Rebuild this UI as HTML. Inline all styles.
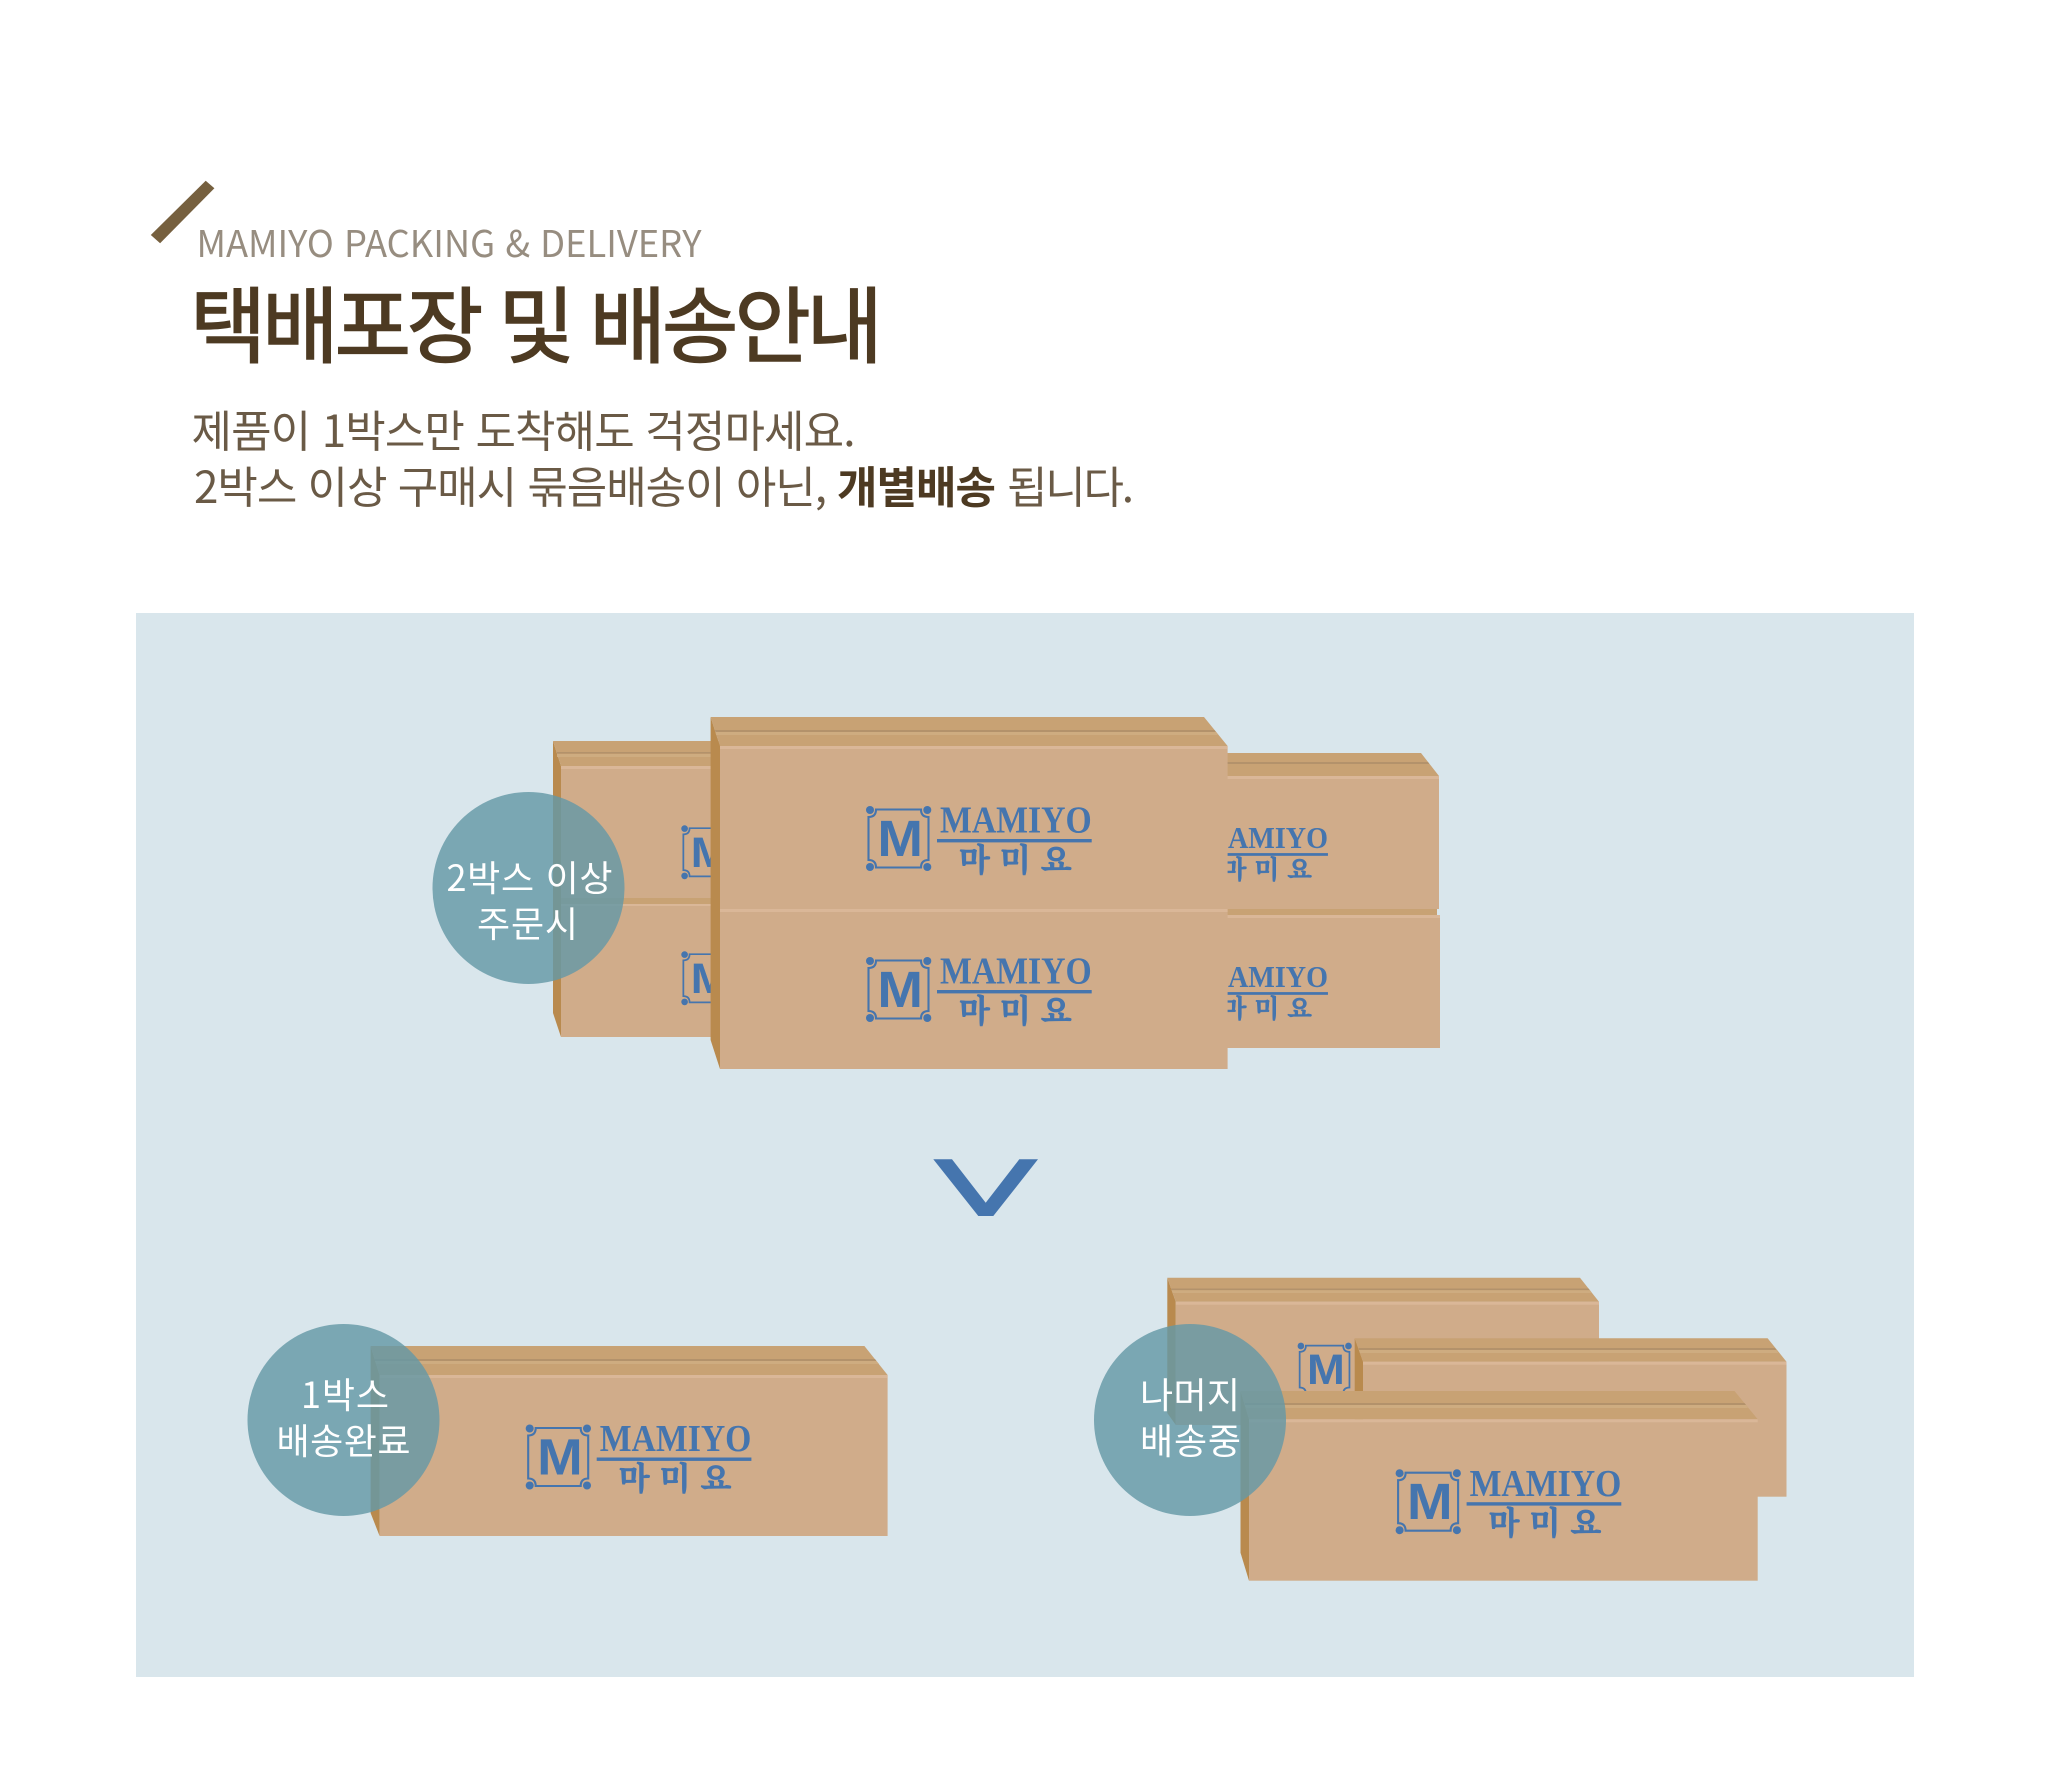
<!DOCTYPE html>
<html lang="ko"><head><meta charset="utf-8"><title>택배포장 및 배송안내</title>
<style>
html,body{margin:0;padding:0;background:#fff}
svg{display:block}
.cjk{font-family:"Noto Sans CJK KR","NanumGothic",sans-serif}
.c{fill:#fff;font-family:"Noto Sans CJK KR","NanumGothic",sans-serif;font-size:36px}
.lm{fill:#4575ae;font-family:"Liberation Sans",sans-serif;font-weight:700;font-size:51px}
.ls{fill:#4575ae;font-family:"Liberation Serif",serif;font-weight:700;font-size:37.7px}
.lk{fill:#4575ae;stroke:#4575ae;stroke-width:.7px;font-family:"Noto Serif CJK SC",serif;font-weight:700;font-size:32px}
.fr{fill:none;stroke:#4575ae;stroke-width:2.1}
.b{fill:#4575ae}
.f{fill:#d0ac8a}.t{fill:#c8a274}.s{fill:#b98a4e}.e{fill:#b3926b}.h{fill:#dab798}.g{fill:#ceac80}
</style></head><body>
<svg width="2050" height="1792" viewBox="0 0 2050 1792" xmlns="http://www.w3.org/2000/svg">
<rect width="2050" height="1792" fill="#fff"/>
<polygon points="205.7,180.7 214.4,188.3 160.1,243.3 150.8,235" fill="#76603f"/>
<text x="196.5" y="257" class="cjk" font-size="37" fill="#978d80" textLength="505" lengthAdjust="spacingAndGlyphs">MAMIYO PACKING &amp; DELIVERY</text>
<text x="190" y="356" class="cjk" font-size="83" fill="#4d3a22" stroke="#4d3a22" stroke-width="1.5" textLength="693" lengthAdjust="spacing">택배포장 및 배송안내</text>
<text x="191.5" y="447" class="cjk" font-size="44" fill="#6a5a46" textLength="664" lengthAdjust="spacing">제품이 1박스만 도착해도 걱정마세요.</text>
<text x="194" y="503" class="cjk" font-size="44" fill="#6a5a46" textLength="633" lengthAdjust="spacing">2박스 이상 구매시 묶음배송이 아닌,</text>
<text x="837" y="503" class="cjk" font-size="44" font-weight="700" fill="#4d3a22" textLength="159" lengthAdjust="spacing">개별배송</text>
<text x="1007" y="503" class="cjk" font-size="44" fill="#6a5a46" textLength="127" lengthAdjust="spacing">됩니다.</text>

<rect x="136" y="613" width="1778" height="1064" fill="#d9e6ec"/>

<!-- back-left stack -->
<polygon class="s" points="553,741 561,766 561,1037 553,1013"/>
<polygon class="t" points="553,741 800,741 800,766 561,766"/>
<rect class="e" x="557" y="752" width="243" height="1.6"/>
<rect class="g" x="557" y="754" width="243" height="3"/>
<rect class="f" x="561" y="766" width="240" height="271"/>
<rect class="h" x="561" y="766" width="240" height="3"/>
<rect class="t" x="561" y="898" width="240" height="6"/>
<rect class="h" x="561" y="904" width="240" height="2"/>
<g transform="translate(668,812) scale(.83)"><path class="fr" d="M26,19.5H71Q71,27 78.5,27V70Q71,70 71,77.5H26Q26,70 18.5,70V27Q26,27 26,19.5Z"/><circle class="b" cx="20" cy="20" r="4"/><circle class="b" cx="20" cy="77" r="4"/><text class="lm" x="27.4" y="66" textLength="45.6" lengthAdjust="spacingAndGlyphs">M</text></g>
<g transform="translate(668,938) scale(.83)"><path class="fr" d="M26,19.5H71Q71,27 78.5,27V70Q71,70 71,77.5H26Q26,70 18.5,70V27Q26,27 26,19.5Z"/><circle class="b" cx="20" cy="20" r="4"/><circle class="b" cx="20" cy="77" r="4"/><text class="lm" x="27.4" y="66" textLength="45.6" lengthAdjust="spacingAndGlyphs">M</text></g>

<!-- back-right stack -->
<polygon class="t" points="1200,753 1421,753 1439,776 1200,776"/>
<polygon class="e" points="1200,762 1428,762 1429.4,764 1200,764"/>
<rect class="f" x="1200" y="776" width="239" height="133"/>
<rect class="h" x="1200" y="776" width="239" height="3"/>
<rect class="t" x="1200" y="909" width="237" height="6"/>
<rect class="f" x="1200" y="915" width="240" height="133"/>
<rect class="h" x="1200" y="915" width="240" height="3"/>
<g transform="translate(1134.6,813.9) scale(.8)"><text class="ls" x="116.7" y="42.7" textLength="125" lengthAdjust="spacingAndGlyphs">AMIYO</text><rect class="b" x="87" y="49" width="154.7" height="3.4"/><text class="lk" x="109" y="81" textLength="112.7" lengthAdjust="spacing">마 미 요</text></g>
<g transform="translate(1134.6,952.9) scale(.8)"><text class="ls" x="116.7" y="42.7" textLength="125" lengthAdjust="spacingAndGlyphs">AMIYO</text><rect class="b" x="87" y="49" width="154.7" height="3.4"/><text class="lk" x="109" y="81" textLength="112.7" lengthAdjust="spacing">마 미 요</text></g>

<!-- big front stack -->
<polygon class="s" points="710.6,717 720,746 720,1069 710.6,1040"/>
<polygon class="t" points="710.6,717 1204,717 1227.6,746 720,746"/>
<polygon class="e" points="715,730 1214.5,730 1216,732 715.6,732"/>
<polygon class="g" points="715.6,732 1216,732 1218,735 716,735"/>
<rect class="f" x="720" y="746" width="507.6" height="323"/>
<rect class="h" x="720" y="746" width="507.6" height="3"/>
<rect class="h" x="720" y="909" width="507.6" height="3"/>
<g transform="translate(850,790)"><path class="fr" d="M26,19.5H71Q71,27 78.5,27V70Q71,70 71,77.5H26Q26,70 18.5,70V27Q26,27 26,19.5Z"/><circle class="b" cx="20" cy="20" r="4"/><circle class="b" cx="77.3" cy="20" r="4"/><circle class="b" cx="20" cy="77" r="4"/><circle class="b" cx="77.3" cy="77" r="4"/><text class="lm" x="27.4" y="66" textLength="45.6" lengthAdjust="spacingAndGlyphs">M</text><text class="ls" x="90" y="42.7" textLength="151.7" lengthAdjust="spacingAndGlyphs">MAMIYO</text><rect class="b" x="87" y="49" width="154.7" height="3.4"/><text class="lk" x="109" y="81" textLength="112.7" lengthAdjust="spacing">마 미 요</text></g>
<g transform="translate(850,941)"><path class="fr" d="M26,19.5H71Q71,27 78.5,27V70Q71,70 71,77.5H26Q26,70 18.5,70V27Q26,27 26,19.5Z"/><circle class="b" cx="20" cy="20" r="4"/><circle class="b" cx="77.3" cy="20" r="4"/><circle class="b" cx="20" cy="77" r="4"/><circle class="b" cx="77.3" cy="77" r="4"/><text class="lm" x="27.4" y="66" textLength="45.6" lengthAdjust="spacingAndGlyphs">M</text><text class="ls" x="90" y="42.7" textLength="151.7" lengthAdjust="spacingAndGlyphs">MAMIYO</text><rect class="b" x="87" y="49" width="154.7" height="3.4"/><text class="lk" x="109" y="81" textLength="112.7" lengthAdjust="spacing">마 미 요</text></g>

<!-- chevron -->
<polygon points="933.3,1159.3 952,1159.3 985.7,1202.7 1019.3,1159.3 1038,1159.3 993.3,1216 978.3,1216" fill="#4575ae"/>

<!-- bottom-left box -->
<polygon class="s" points="370.6,1346 379.6,1375 379.6,1536 370.6,1513"/>
<polygon class="t" points="370.6,1346 864.4,1346 887.6,1375 379.6,1375"/>
<polygon class="e" points="374.5,1359 875,1359 876.5,1361 375,1361"/>
<polygon class="g" points="375,1361 876.5,1361 879,1364 376,1364"/>
<rect class="f" x="379.6" y="1375" width="508" height="161"/>
<rect class="h" x="379.6" y="1375" width="508" height="3"/>
<g transform="translate(509.7,1408.5)"><path class="fr" d="M26,19.5H71Q71,27 78.5,27V70Q71,70 71,77.5H26Q26,70 18.5,70V27Q26,27 26,19.5Z"/><circle class="b" cx="20" cy="20" r="4"/><circle class="b" cx="77.3" cy="20" r="4"/><circle class="b" cx="20" cy="77" r="4"/><circle class="b" cx="77.3" cy="77" r="4"/><text class="lm" x="27.4" y="66" textLength="45.6" lengthAdjust="spacingAndGlyphs">M</text><text class="ls" x="90" y="42.7" textLength="151.7" lengthAdjust="spacingAndGlyphs">MAMIYO</text><rect class="b" x="87" y="49" width="154.7" height="3.4"/><text class="lk" x="109" y="81" textLength="112.7" lengthAdjust="spacing">마 미 요</text></g>

<!-- right stack: back -->
<polygon class="s" points="1167.3,1277.7 1175.8,1301.7 1175.8,1425 1167.3,1413"/>
<polygon class="t" points="1167.3,1277.7 1580,1277.7 1599,1301.7 1175.8,1301.7"/>
<polygon class="e" points="1171,1288.5 1588.5,1288.5 1590,1290.2 1171.6,1290.2"/>
<polygon class="g" points="1171.6,1290.2 1590,1290.2 1592,1293 1172.5,1293"/>
<rect class="f" x="1175.8" y="1301.7" width="423.2" height="123.3"/>
<rect class="h" x="1175.8" y="1301.7" width="423.2" height="3"/>
<g transform="translate(1284.3,1329.4) scale(.83)"><path class="fr" d="M26,19.5H71Q71,27 78.5,27V70Q71,70 71,77.5H26Q26,70 18.5,70V27Q26,27 26,19.5Z"/><circle class="b" cx="20" cy="20" r="4"/><circle class="b" cx="77.3" cy="20" r="4"/><text class="lm" x="27.4" y="66" textLength="45.6" lengthAdjust="spacingAndGlyphs">M</text></g>
<!-- right stack: middle -->
<polygon class="s" points="1354.7,1338.3 1363,1361.7 1363,1440 1354.7,1440"/>
<polygon class="t" points="1354.7,1338.3 1767.6,1338.3 1786.5,1361.7 1363,1361.7"/>
<polygon class="e" points="1358.5,1348 1775,1348 1776.4,1350 1359,1350"/>
<polygon class="g" points="1359,1350 1776.4,1350 1778.4,1353 1360,1353"/>
<rect class="f" x="1363" y="1361.7" width="423.5" height="135"/>
<rect class="h" x="1363" y="1361.7" width="423.5" height="3"/>
<!-- right stack: front -->
<polygon class="s" points="1240.5,1391 1249,1419.3 1249,1580.7 1240.5,1552.7"/>
<polygon class="t" points="1240.5,1391 1734.5,1391 1757.7,1419.3 1249,1419.3"/>
<polygon class="e" points="1244.5,1403 1744.5,1403 1746,1405 1245,1405"/>
<polygon class="g" points="1245,1405 1746,1405 1748,1408 1246,1408"/>
<rect class="f" x="1249" y="1419.3" width="508.7" height="161.4"/>
<rect class="h" x="1249" y="1419.3" width="508.7" height="3"/>
<g transform="translate(1379.6,1453.2)"><path class="fr" d="M26,19.5H71Q71,27 78.5,27V70Q71,70 71,77.5H26Q26,70 18.5,70V27Q26,27 26,19.5Z"/><circle class="b" cx="20" cy="20" r="4"/><circle class="b" cx="77.3" cy="20" r="4"/><circle class="b" cx="20" cy="77" r="4"/><circle class="b" cx="77.3" cy="77" r="4"/><text class="lm" x="27.4" y="66" textLength="45.6" lengthAdjust="spacingAndGlyphs">M</text><text class="ls" x="90" y="42.7" textLength="151.7" lengthAdjust="spacingAndGlyphs">MAMIYO</text><rect class="b" x="87" y="49" width="154.7" height="3.4"/><text class="lk" x="109" y="81" textLength="112.7" lengthAdjust="spacing">마 미 요</text></g>

<!-- circles -->
<circle cx="528.5" cy="888" r="96" fill="rgb(101,152,166)" fill-opacity=".82"/>
<circle cx="343.5" cy="1420" r="96" fill="rgb(101,152,166)" fill-opacity=".82"/>
<circle cx="1190" cy="1420" r="96" fill="rgb(101,152,166)" fill-opacity=".82"/>
<text class="c" x="446.5" y="891" textLength="166" lengthAdjust="spacing">2박스 이상</text>
<text class="c" x="477" y="937" textLength="101" lengthAdjust="spacing">주문시</text>
<text class="c" x="301" y="1408" textLength="88" lengthAdjust="spacing">1박스</text>
<text class="c" x="276.5" y="1454" textLength="134" lengthAdjust="spacing">배송완료</text>
<text class="c" x="1140" y="1408" textLength="100" lengthAdjust="spacing">나머지</text>
<text class="c" x="1140" y="1454" textLength="101" lengthAdjust="spacing">배송중</text>
</svg>
</body></html>
